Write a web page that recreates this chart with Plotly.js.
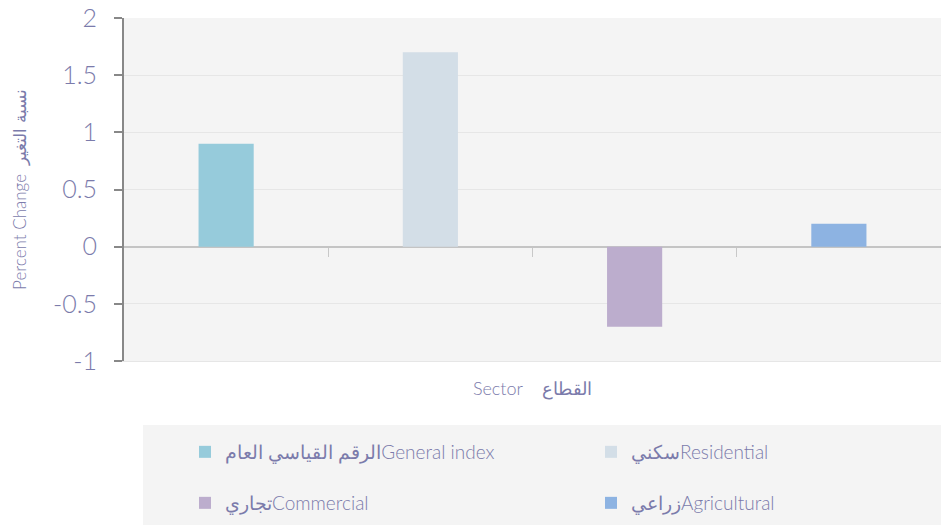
<!DOCTYPE html>
<html>
<head>
<meta charset="utf-8">
<script src="https://cdn.plot.ly/plotly-3.0.1.min.js"></script>
<style>html,body{margin:0;padding:0;background:#fff;}#chart{width:941px;height:525px;}</style>
</head>
<body>
<div id="chart"></div>
<script>
const categories = ["General index", "Residential", "Commercial", "Agricultural"];
const seriesNames = ["الرقم القياسي العامGeneral index", "سكنيResidential", "تجاريCommercial", "زراعيAgricultural"];
const values = [0.9, 1.7, -0.7, 0.2];
const colors = ["#96cbdb", "#d3dee7", "#bcadcd", "#8db3e2"];
const yTickVals = [-1, -0.5, 0, 0.5, 1, 1.5, 2];
const yTickText = ["-1", "-0.5", "0", "0.5", "1", "1.5", "2"];
const yRange = [-1, 2];
const xTitle = "Sector    القطاع";
const yTitle = "Percent Change  نسبة التغير";

const FONT = "Lato, 'Open Sans', 'DejaVu Sans', sans-serif";
const TXT = "#7b7bab";

const W = 941, H = 525, ml = 124, mr = 0, mt = 18, mb = 164;
const pw = W - ml - mr, ph = H - mt - mb;
const px = v => (v - ml) / pw;
const py = v => (H - mb - v) / ph;

const legendIds = ["legend", "legend2", "legend3", "legend4"];
const legendPos = [[185, 452], [591, 452], [185, 503], [591, 503]];

const traces = categories.map((c, i) => ({
  type: "bar",
  x: [c],
  y: [values[i]],
  name: seriesNames[i],
  marker: {color: colors[i]},
  width: 0.27,
  legend: legendIds[i],
  hoverinfo: "y+name"
}));
// empty helper trace so the zero-crossing tick axis is drawn
traces.push({type: "scatter", x: [], y: [], xaxis: "x2", yaxis: "y", showlegend: false, hoverinfo: "skip"});

const layout = {
  width: W, height: H,
  margin: {l: ml, r: mr, t: mt, b: mb, pad: 0},
  paper_bgcolor: "#ffffff",
  plot_bgcolor: "#f4f4f4",
  barmode: "overlay",
  font: {family: FONT, color: TXT, weight: 300},
  showlegend: true,
  xaxis: {
    type: "category",
    categoryorder: "array",
    categoryarray: categories,
    range: [-0.5, 3.5],
    showticklabels: false,
    ticks: "",
    showgrid: false,
    zeroline: false,
    showline: true,
    linecolor: "#e6e6e6",
    linewidth: 1,
    title: {text: xTitle, font: {size: 18, color: TXT, family: FONT}, standoff: 21}
  },
  xaxis2: {
    type: "linear",
    overlaying: "x",
    anchor: "free",
    position: (0 - yRange[0]) / (yRange[1] - yRange[0]),
    range: [-0.5, 3.5],
    tickmode: "array",
    tickvals: [0.5, 1.5, 2.5],
    showticklabels: false,
    ticks: "outside",
    ticklen: 9,
    tickwidth: 1,
    tickcolor: "#c8c8c8",
    showgrid: false,
    zeroline: false,
    showline: false,
    fixedrange: true
  },
  yaxis: {
    range: yRange,
    tickmode: "array",
    tickvals: yTickVals,
    ticktext: yTickText,
    ticks: "outside",
    ticklen: 8,
    tickwidth: 2,
    tickcolor: "#888888",
    showline: true,
    linecolor: "#888888",
    linewidth: 2,
    showgrid: true,
    gridcolor: "#e6e6e6",
    gridwidth: 1,
    zeroline: true,
    zerolinecolor: "#c4c4c4",
    zerolinewidth: 2,
    ticklabelstandoff: 12,
    tickfont: {size: 25, color: TXT, family: FONT},
    title: {text: yTitle, font: {size: 17, color: TXT, family: FONT}, standoff: 22}
  },
  shapes: [{
    type: "rect", xref: "paper", yref: "paper", layer: "below",
    x0: px(143), x1: 1, y0: py(425), y1: py(525),
    fillcolor: "#f4f4f4", line: {width: 0}
  }]
};

legendIds.forEach((id, i) => {
  layout[id] = {
    orientation: "h",
    x: px(legendPos[i][0]), xanchor: "left",
    y: py(legendPos[i][1]), yanchor: "middle",
    bgcolor: "rgba(0,0,0,0)",
    font: {size: 19, color: TXT, family: FONT},
    itemwidth: 30
  };
});

Plotly.newPlot("chart", traces, layout, {displayModeBar: false, responsive: false});
</script>
</body>
</html>
